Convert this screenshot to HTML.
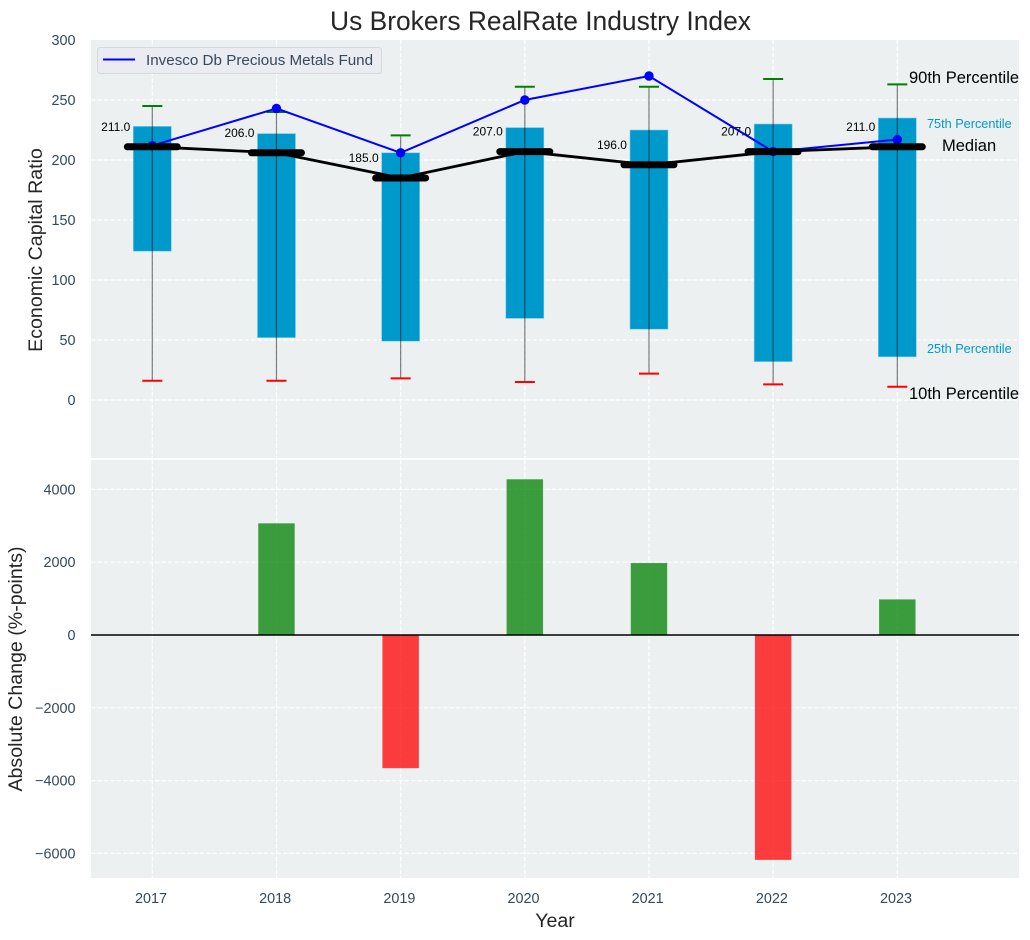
<!DOCTYPE html>
<html>
<head>
<meta charset="utf-8">
<title>Us Brokers RealRate Industry Index</title>
<style>
html,body{margin:0;padding:0;background:#fff;}
#chart{display:block;width:1030px;height:940px;font-family:"Liberation Sans",sans-serif;}
</style>
</head>
<body>
<svg id="chart" xmlns="http://www.w3.org/2000/svg" width="1030" height="940" viewBox="0 0 1030 940">
  <rect x="91" y="40" width="928" height="418" fill="#ecf0f1"/>
  <rect x="91" y="460" width="928" height="418" fill="#ecf0f1"/>
  <g id="grid"></g>
  <g id="top-marks"></g>
  <g id="bottom-marks"></g>
  <g id="ticks"></g>
  <text x="540.5" y="30" font-size="26.4" text-anchor="middle" fill="#262626">Us Brokers RealRate Industry Index</text>
  <text transform="translate(42,250) rotate(-90)" font-size="19.6" text-anchor="middle" fill="#262626">Economic Capital Ratio</text>
  <text transform="translate(22,669) rotate(-90)" font-size="19.6" text-anchor="middle" fill="#262626">Absolute Change (%-points)</text>
  <text x="555" y="927" font-size="19.6" text-anchor="middle" fill="#262626">Year</text>
  <g>
    <rect x="97.5" y="47.5" width="284" height="26" rx="3" fill="#eaecf1" stroke="#d5d8dc" stroke-width="1"/>
    <line x1="103" y1="59.5" x2="135" y2="59.5" stroke="#0000ff" stroke-width="2"/>
    <text x="146" y="65" font-size="15.2" fill="#34495e">Invesco Db Precious Metals Fund</text>
  </g>
  <text x="909" y="83" font-size="16.5" fill="#000">90th Percentile</text>
  <text x="927" y="128" font-size="12.7" fill="#0099cc">75th Percentile</text>
  <text x="942" y="151" font-size="16.5" fill="#000">Median</text>
  <text x="927" y="353" font-size="12.7" fill="#0099cc">25th Percentile</text>
  <text x="909" y="399" font-size="16.5" fill="#000">10th Percentile</text>
</svg>
<script>
const years = [2017, 2018, 2019, 2020, 2021, 2022, 2023];
const p90 = [245, 240, 220.5, 261, 261, 267.5, 263];
const p75 = [228, 222, 206, 227, 225, 230, 235];
const median = [211, 206, 185, 207, 196, 207, 211];
const p25 = [124, 52, 49, 68, 59, 32, 36];
const p10 = [16, 16, 18, 15, 22, 13, 11];
const fund = [212, 243, 206, 250, 270, 207, 217];
const change = [null, 3070, -3660, 4280, 1980, -6180, 980];
const topTicks = [0, 50, 100, 150, 200, 250, 300];
const bottomTicks = [-6000, -4000, -2000, 0, 2000, 4000];

const NS = 'http://www.w3.org/2000/svg';
const xPos = i => 152.3 + 124.17 * i;
const yTop = v => 400 - 1.2 * v;
const yBottom = v => 635 - 0.0364 * v;

function make(tag, parent, attrs) {
  const el = document.createElementNS(NS, tag);
  for (const k in attrs) el.setAttribute(k, attrs[k]);
  parent.appendChild(el);
  return el;
}

const grid = document.getElementById('grid');
const topMarks = document.getElementById('top-marks');
const bottomMarks = document.getElementById('bottom-marks');
const ticks = document.getElementById('ticks');
const dash = {stroke: '#ffffff', 'stroke-width': 1.2, 'stroke-dasharray': '4.4 2', fill: 'none'};

years.forEach((yr, i) => {
  const x = xPos(i);
  const g1 = make('line', grid, Object.assign({x1: x, x2: x, y1: 40, y2: 458}, dash));
  
  
  const g2 = make('line', grid, Object.assign({x1: x, x2: x, y1: 460, y2: 878}, dash));
  
  
  const t = make('text', ticks, {x: x - 1.3, y: 903, 'font-size': 14.4, 'text-anchor': 'middle', fill: '#34495e'});
  t.textContent = yr;
  
  
});

topTicks.forEach(v => {
  const y = yTop(v);
  if (v < 300) {
    const g = make('line', grid, Object.assign({x1: 91, x2: 1019, y1: y, y2: y}, dash));
    
    
  }
  const t = make('text', ticks, {x: 75.5, y: y + 5, 'font-size': 14.4, 'text-anchor': 'end', fill: '#34495e'});
  t.textContent = v;
  
  
});

bottomTicks.forEach(v => {
  const y = yBottom(v);
  const g = make('line', grid, Object.assign({x1: 91, x2: 1019, y1: y, y2: y}, dash));
  
  
  const t = make('text', ticks, {x: 75.5, y: y + 5, 'font-size': 14.4, 'text-anchor': 'end', fill: '#34495e'});
  t.textContent = String(v).replace('-', '\u2212');
  
  
});

years.forEach((yr, i) => {
  const x = xPos(i);
  const box = make('rect', topMarks, {x: x - 19, y: yTop(p75[i]), width: 38, height: yTop(p25[i]) - yTop(p75[i]), fill: '#0099cc', stroke: '#7fcbe5', 'stroke-width': 0.6});
  
  
  const w = make('line', topMarks, {x1: x, x2: x, y1: yTop(p90[i]), y2: yTop(p10[i]), stroke: '#000', 'stroke-opacity': 0.5, 'stroke-width': 1.2});
  
  
  const c1 = make('line', topMarks, {x1: x - 10, x2: x + 10, y1: yTop(p90[i]), y2: yTop(p90[i]), stroke: '#008000', 'stroke-width': 2});
  
  
  const c2 = make('line', topMarks, {x1: x - 10, x2: x + 10, y1: yTop(p10[i]), y2: yTop(p10[i]), stroke: '#ff0000', 'stroke-width': 2});
  
  
});

const fundLine = make('polyline', topMarks, {points: fund.map((v, i) => xPos(i) + ',' + yTop(v)).join(' '), fill: 'none', stroke: '#0000ff', 'stroke-width': 2});


fund.forEach((v, i) => {
  const d = make('circle', topMarks, {cx: xPos(i), cy: yTop(v), r: 4.7, fill: '#0000ff'});
  
  
});

const medLine = make('polyline', topMarks, {points: median.map((v, i) => xPos(i) + ',' + yTop(v)).join(' '), fill: 'none', stroke: '#000', 'stroke-width': 2.8});


median.forEach((v, i) => {
  const x = xPos(i), y = yTop(v);
  const m = make('line', topMarks, {x1: x - 25, x2: x + 25, y1: y, y2: y, stroke: '#000', 'stroke-width': 7, 'stroke-linecap': 'round'});
  
  
  const t = make('text', topMarks, {x: x - 22, y: y - 16, 'font-size': 12, 'text-anchor': 'end', fill: '#000'});
  t.textContent = v.toFixed(1);
  
  
});

change.forEach((v, i) => {
  if (v === null) return;
  const y0 = yBottom(0), y1 = yBottom(v);
  const col = v >= 0 ? '#008000' : '#ff0000';
  const b = make('rect', bottomMarks, {x: xPos(i) - 18.3, y: Math.min(y0, y1), width: 36.6, height: Math.abs(y1 - y0), fill: col, 'fill-opacity': 0.75, stroke: '#ffffff', 'stroke-opacity': 0.25, 'stroke-width': 0.6});
  
  
});
const zero = make('line', bottomMarks, {x1: 91, x2: 1019, y1: yBottom(0), y2: yBottom(0), stroke: '#000', 'stroke-width': 1.5});


</script>
</body>
</html>
